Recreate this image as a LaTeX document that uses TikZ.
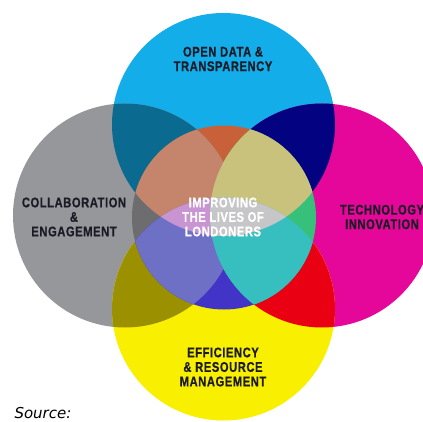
\documentclass[tikz,border=0pt]{standalone}
\usepackage{fontspec}
\usepackage{tikz}
\newfontfamily\lblfont[FakeStretch=0.8, LetterSpace=4, BoldFeatures={FakeBold=0.6}]{Liberation Sans}
\newfontfamily\srcfont{DejaVu Sans}

\definecolor{cyanC}{HTML}{13ADE9}
\definecolor{greyG}{HTML}{96979B}
\definecolor{magM}{HTML}{E5079A}
\definecolor{yelY}{HTML}{F8F000}
\definecolor{tealCG}{HTML}{0A6A90}
\definecolor{navyCM}{HTML}{030382}
\definecolor{oliveGY}{HTML}{9A9000}
\definecolor{redMY}{HTML}{EA0013}
\definecolor{orangeC}{HTML}{C8603A}
\definecolor{dgreyG}{HTML}{6D6D6F}
\definecolor{greenM}{HTML}{36C07A}
\definecolor{blueY}{HTML}{4334C8}
\definecolor{brownCG}{HTML}{C4856C}
\definecolor{lilacGY}{HTML}{6E70C6}
\definecolor{pinkCGY}{HTML}{C894D2}
\definecolor{khakiCM}{HTML}{C9C27C}
\definecolor{aquaMY}{HTML}{37BFC0}
\definecolor{lgreyCMY}{HTML}{C6C6C8}
\definecolor{lbltext}{HTML}{1B1B26}

\tikzset{
  lbl/.style={align=center, text=lbltext, font=\lblfont\bfseries\fontsize{14}{14.5}\selectfont},
  midlbl/.style={lbl, text=white}
}

\begin{document}
\begin{tikzpicture}[x=1pt,y=-1pt]

 \useasboundingbox (0,0) rectangle (423,422);
 \fill[white] (0,0) rectangle (423,422);

 \coordinate (cC) at (223.5,124.5); % open data
 \coordinate (cG) at (125,215.5);   % collaboration
 \coordinate (cM) at (322,215.5);   % technology
 \coordinate (cY) at (223.5,309);   % efficiency
 \coordinate (cO) at (224,217.5);   % centre
 \def\cirC{(cC) circle (111.5)}
 \def\cirG{(cG) circle (112)}
 \def\cirM{(cM) circle (112)}
 \def\cirY{(cY) circle (111.5)}
 \def\cirO{(cO) circle (92)}

 \fill[cyanC] \cirC;
 \fill[greyG] \cirG;
 \fill[magM] \cirM;
 \fill[yelY] \cirY;
 \begin{scope}
  \clip \cirC;
  \fill[tealCG] \cirG;
  \fill[navyCM] \cirM;
 \end{scope}
 \begin{scope}
  \clip \cirY;
  \fill[oliveGY] \cirG;
  \fill[redMY] \cirM;
 \end{scope}

 % centre circle
 \begin{scope}
  \clip \cirO;
  \fill[orangeC] \cirC;
  \fill[dgreyG] \cirG;
  \fill[blueY] \cirY;
  \fill[greenM] \cirM;
  \begin{scope}
   \clip \cirG;
   \fill[brownCG] \cirC;
   \fill[lilacGY] \cirY;
   \begin{scope}
    \clip \cirC;
    \fill[pinkCGY] \cirY;
   \end{scope}
  \end{scope}
  \begin{scope}
   \clip \cirM;
   \fill[khakiCM] \cirC;
   \fill[aquaMY] \cirY;
   \begin{scope}
    \clip \cirC;
    \fill[lgreyCMY] \cirY;
   \end{scope}
  \end{scope}
 \end{scope}

 \node[lbl] (open) at (223,59) {OPEN DATA \&\\TRANSPARENCY};
 \node[lbl] (collab) at (74,217) {COLLABORATION\\\&\\ENGAGEMENT};
 \node[lbl] (tech) at (382,217) {TECHNOLOGY\\INNOVATION};
 \node[lbl] (effic) at (223,367) {EFFICIENCY\\\& RESOURCE\\MANAGEMENT};
 \node[midlbl] (lives) at (223,217) {IMPROVING\\THE LIVES OF\\LONDONERS};
 \node[anchor=base west, font=\srcfont\itshape\fontsize{15}{18}\selectfont] (src) at (11,418) {Source:};

\end{tikzpicture}
\end{document}
